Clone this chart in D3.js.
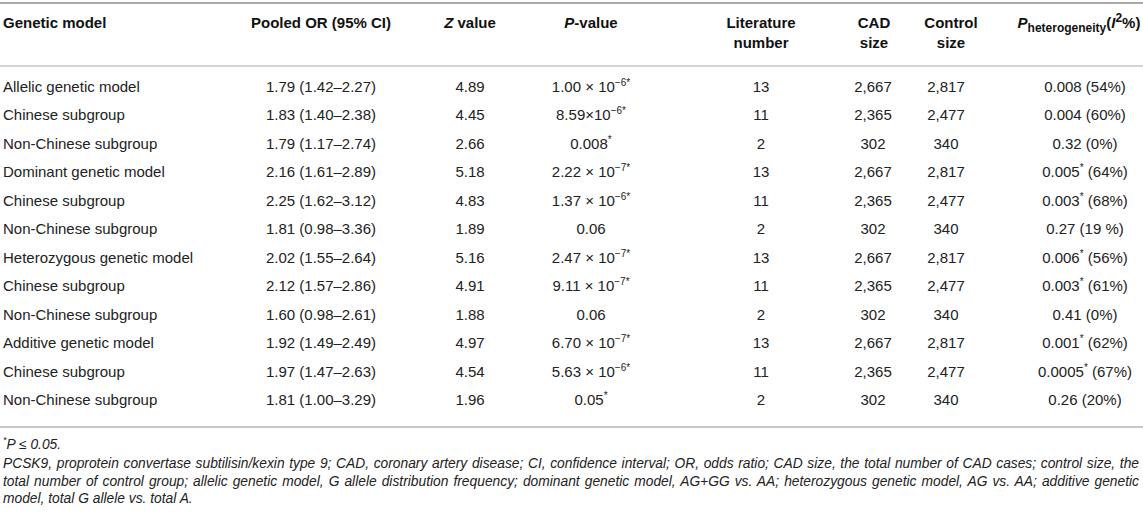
<!DOCTYPE html>
<html>
<head>
<meta charset="utf-8">
<script src="https://cdn.jsdelivr.net/npm/d3@7"></script>
<style>
  body { margin: 0; background: #fff; }
  svg { display: block; font-family: "Liberation Sans", Arial, Helvetica, sans-serif; }
</style>
</head>
<body>
<div id="table"></div>
<script>
// Table values
const models = [
    "Allelic genetic model", "Chinese subgroup", "Non-Chinese subgroup",
    "Dominant genetic model", "Chinese subgroup", "Non-Chinese subgroup",
    "Heterozygous genetic model", "Chinese subgroup", "Non-Chinese subgroup",
    "Additive genetic model", "Chinese subgroup", "Non-Chinese subgroup"
];
const pooledOR = [
    "1.79 (1.42–2.27)", "1.83 (1.40–2.38)", "1.79 (1.17–2.74)",
    "2.16 (1.61–2.89)", "2.25 (1.62–3.12)", "1.81 (0.98–3.36)",
    "2.02 (1.55–2.64)", "2.12 (1.57–2.86)", "1.60 (0.98–2.61)",
    "1.92 (1.49–2.49)", "1.97 (1.47–2.63)", "1.81 (1.00–3.29)"
];
const zValues = ["4.89", "4.45", "2.66", "5.18", "4.83", "1.89", "5.16", "4.91", "1.88", "4.97", "4.54", "1.96"];
// "^" starts a superscript, "*" is always raised
const pValues = [
    "1.00 × 10^−6*", "8.59×10^−6*", "0.008*",
    "2.22 × 10^−7*", "1.37 × 10^−6*", "0.06",
    "2.47 × 10^−7*", "9.11 × 10^−7*", "0.06",
    "6.70 × 10^−7*", "5.63 × 10^−6*", "0.05*"
];
const litNumbers = ["13", "11", "2", "13", "11", "2", "13", "11", "2", "13", "11", "2"];
const cadSizes = ["2,667", "2,365", "302", "2,667", "2,365", "302", "2,667", "2,365", "302", "2,667", "2,365", "302"];
const controlSizes = ["2,817", "2,477", "340", "2,817", "2,477", "340", "2,817", "2,477", "340", "2,817", "2,477", "340"];
const pHet = [
    "0.008 (54%)", "0.004 (60%)", "0.32 (0%)",
    "0.005* (64%)", "0.003* (68%)", "0.27 (19 %)",
    "0.006* (56%)", "0.003* (61%)", "0.41 (0%)",
    "0.001* (62%)", "0.0005* (67%)", "0.26 (20%)"
];
const footStar = "*P ≤ 0.05.";
const footLines = [
    "PCSK9, proprotein convertase subtilisin/kexin type 9; CAD, coronary artery disease; CI, confidence interval; OR, odds ratio; CAD size, the total number of CAD cases; control size, the",
    "total number of control group; allelic genetic model, G allele distribution frequency; dominant genetic model, AG+GG vs. AA; heterozygous genetic model, AG vs. AA; additive genetic",
    "model, total G allele vs. total A."
];

const width = 1143, height = 513;
const left = 3, right = 1139;
const textColor = "#222";

// Column layout: header segments per line and the values shown in the column
const columns = [
    { x: left, hx: left, anchor: "start", values: models,
      header: [[{ t: "Genetic model" }]] },
    { x: 321, hx: 321, anchor: "middle", values: pooledOR,
      header: [[{ t: "Pooled OR (95% CI)" }]] },
    { x: 470, hx: 470, anchor: "middle", values: zValues,
      header: [[{ t: "Z", i: true }, { t: " value" }]] },
    { x: 591, hx: 591, anchor: "middle", values: pValues,
      header: [[{ t: "P", i: true }, { t: "-value" }]] },
    { x: 761, hx: 761, anchor: "middle", values: litNumbers,
      header: [[{ t: "Literature" }], [{ t: "number" }]] },
    { x: 873, hx: 874, anchor: "middle", values: cadSizes,
      header: [[{ t: "CAD" }], [{ t: "size" }]] },
    { x: 946, hx: 951, anchor: "middle", values: controlSizes,
      header: [[{ t: "Control" }], [{ t: "size" }]] },
    { x: 1085, hx: 1079, anchor: "middle", values: pHet,
      header: [[{ t: "P", i: true }, { t: "heterogeneity", sub: true }, { t: "(" },
                { t: "I", i: true }, { t: "2", sup: true }, { t: "%)" }]] }
];

// Turn "1.00 × 10^−6*" into plain / superscript pieces
const parseRich = (str) => {
    const segs = [];
    let buf = "", sup = false;
    const flush = () => { if (buf) segs.push({ t: buf, sup }); buf = ""; };
    for (const ch of str) {
        if (ch === "^") { flush(); sup = true; }
        else if (ch === " " && sup) { flush(); sup = false; buf = ch; }
        else if (ch === "*" && !sup) { flush(); segs.push({ t: "*", sup: true }); }
        else buf += ch;
    }
    flush();
    return segs;
};

// Write segments as tspans, raising / lowering the small ones
const addRich = (text, segs, size, smallSize) => {
    let shift = 0;
    segs.forEach(s => {
        const target = s.sup ? -6 : s.sub ? 4 : 0;
        const ts = text.append("tspan")
            .attr("dy", target - shift)
            .style("font-size", (s.sup || s.sub) ? smallSize + "px" : size + "px")
            .text(s.t);
        if (s.i) ts.style("font-style", "italic");
        shift = target;
    });
};

const svg = d3.select("#table")
    .append("svg")
    .attr("width", width)
    .attr("height", height)
    .attr("viewBox", `0 0 ${width} ${height}`);

// Row positions
const yScale = d3.scalePoint()
    .domain(d3.range(models.length))
    .range([87, 400]);

// Horizontal rules
const rules = [
    { y: 3, color: "#a9a9a9", w: 2 },
    { y: 66, color: "#c4c4c4", w: 1.5 },
    { y: 427, color: "#b4b4b4", w: 1.5 }
];
svg.selectAll("line.rule")
    .data(rules)
    .join("line")
    .attr("class", "rule")
    .attr("x1", 0).attr("x2", width)
    .attr("y1", d => d.y).attr("y2", d => d.y)
    .attr("stroke", d => d.color)
    .attr("stroke-width", d => d.w);

// Header
const headerBaselines = [28, 48];
columns.forEach(col => {
    col.header.forEach((line, li) => {
        const t = svg.append("text")
            .attr("x", col.hx)
            .attr("y", headerBaselines[li])
            .attr("text-anchor", col.anchor)
            .attr("fill", "#111")
            .style("font-weight", "bold");
        addRich(t, line, 15, 12);
    });
});

// Body cells
columns.forEach(col => {
    svg.append("g")
        .selectAll("text")
        .data(col.values)
        .join("text")
        .attr("x", col.x)
        .attr("y", (d, i) => yScale(i) + 5)
        .attr("text-anchor", col.anchor)
        .attr("fill", textColor)
        .each(function (d) {
            addRich(d3.select(this), parseRich(d), 15, 10);
        });
});

// Footnotes
const footSize = 13.8;
const foot = svg.append("g")
    .attr("fill", textColor)
    .style("font-style", "italic")
    .style("font-size", footSize + "px");

const star = foot.append("text").attr("x", left).attr("y", 449);
addRich(star, parseRich(footStar), footSize, 9);

// Justify every line of the note except the last one
const footBaselines = [468, 486, 503];
footLines.forEach((line, i) => {
    const t = foot.append("text")
        .attr("x", left)
        .attr("y", footBaselines[i])
        .text(line);
    if (i < footLines.length - 1) {
        const gaps = line.split(" ").length - 1;
        const extra = (right - left) - t.node().getComputedTextLength();
        t.style("word-spacing", (extra / gaps) + "px");
    }
});
</script>
</body>
</html>
